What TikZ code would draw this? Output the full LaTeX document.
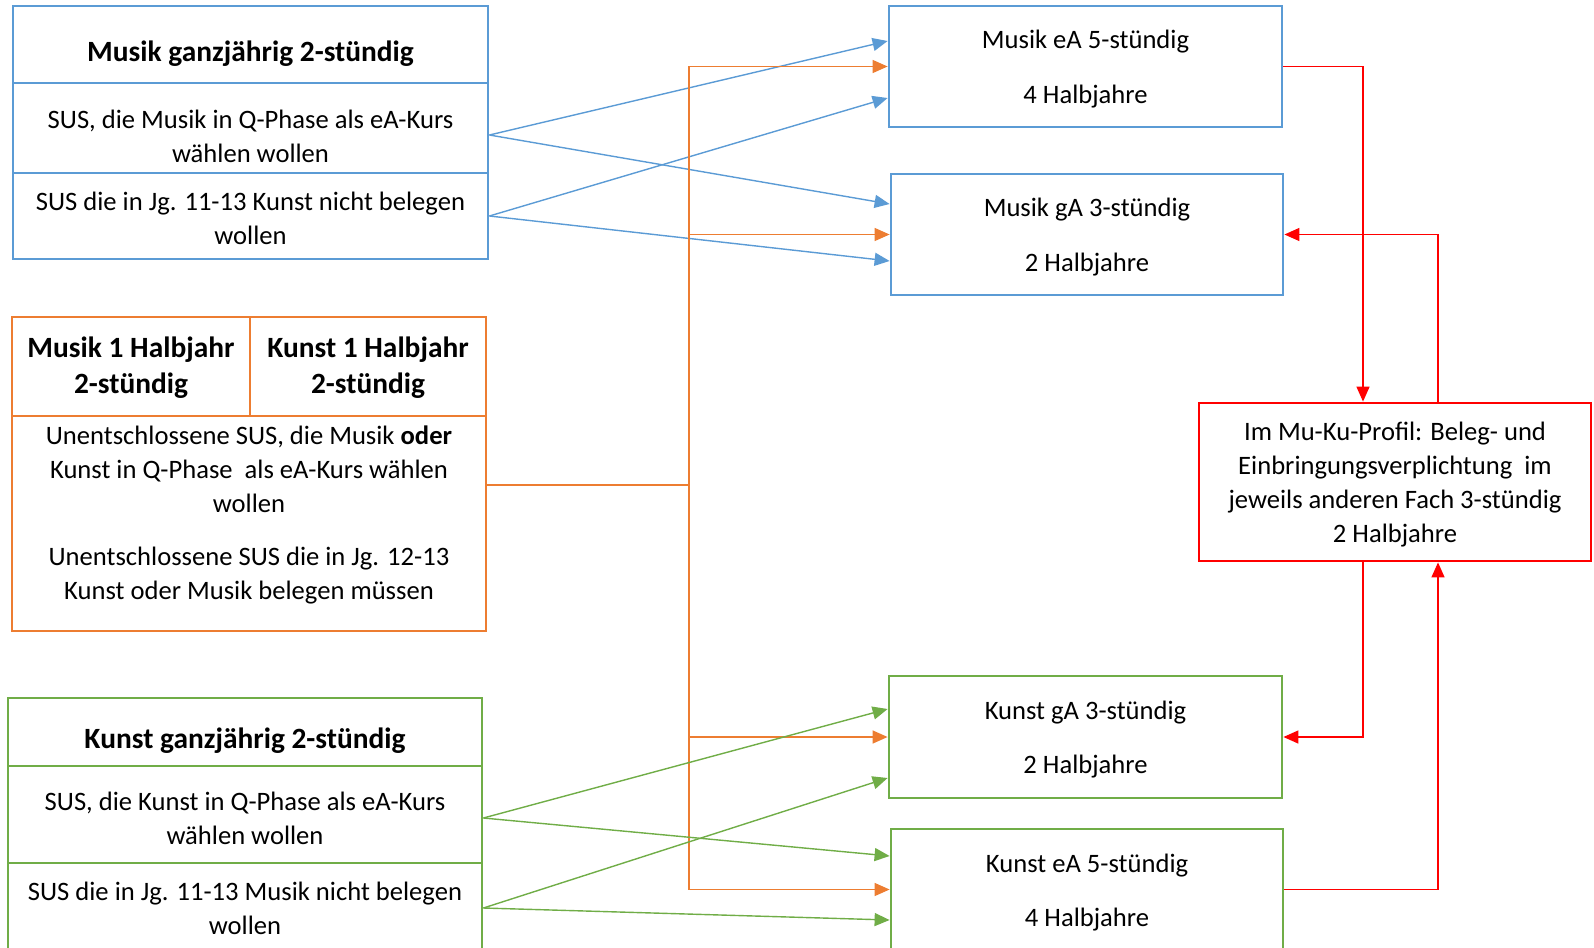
\documentclass[tikz,border=0pt]{standalone}
\usepackage{fontspec}
\setmainfont{Carlito}
\usetikzlibrary{arrows.meta, positioning}

\definecolor{mublue}{RGB}{91,155,213}
\definecolor{unorange}{RGB}{237,125,49}
\definecolor{kugreen}{RGB}{112,173,71}
\definecolor{profred}{RGB}{255,0,0}

\begin{document}
\begin{tikzpicture}[x=0.5pt, y=-0.5pt,
    box/.style={draw, line width=1.4pt, inner sep=0pt},
    txt/.style={align=center, font=\fontsize{13.3}{17.1}\selectfont},
    headtxt/.style={align=center, font=\bfseries\fontsize{14.7}{18}\selectfont},
    conn/.style={line width=0.7pt, -{Triangle[length=7.5pt, width=6.5pt]}},
  ]
  \useasboundingbox (0,0) rectangle (1594,947);
  \clip (0,0) rectangle (1594,947);

  \node[box, mublue, minimum width=237.5pt, minimum height=38.5pt] (mhead) at (250.5,44.5) {};
  \node[box, mublue, minimum width=237.5pt, minimum height=45pt] (mwunsch) at (250.5,128) {};
  \node[box, mublue, minimum width=237.5pt, minimum height=43pt] (mnicht) at (250.5,216) {};
  \node[headtxt] (mheadtext) at ([yshift=-4.6pt]mhead.center) {Musik ganzjährig 2-stündig};
  \node[txt] (mwunschtext) at ([yshift=-4.3pt]mwunsch.center) {SUS, die Musik in Q-Phase als eA-Kurs\\wählen wollen};
  \node[txt] (mnichttext) at ([yshift=-1pt]mnicht.center) {SUS die in Jg. 11-13 Kunst nicht belegen\\wollen};

  \node[box, unorange, minimum width=119pt, minimum height=49.5pt] (ohm) at (131,366.5) {};
  \node[box, unorange, minimum width=118pt, minimum height=49.5pt] (ohk) at (368,366.5) {};
  \node[box, unorange, minimum width=237pt, minimum height=107.5pt] (obody) at (249,523.5) {};
  \node[headtxt] (ohmtext) at ([yshift=-0.7pt]ohm.center) {Musik 1 Halbjahr\\2-stündig};
  \node[headtxt] (ohktext) at ([yshift=-0.7pt]ohk.center) {Kunst 1 Halbjahr\\2-stündig};
  \node[txt] (obodytext) at ([yshift=4.3pt]obody.center) {Unentschlossene SUS, die Musik \textbf{oder}\\Kunst in Q-Phase\ \ als eA-Kurs wählen\\wollen\\[9pt]Unentschlossene SUS die in Jg. 12-13\\Kunst oder Musik belegen müssen};

  \node[box, kugreen, minimum width=237pt, minimum height=34pt] (khead) at (245,732) {};
  \node[box, kugreen, minimum width=237pt, minimum height=48.5pt] (kwunsch) at (245,814.5) {};
  \node[box, kugreen, minimum width=237pt, minimum height=45pt] (knicht) at (245,908) {};
  \node[headtxt] (kheadtext) at ([yshift=-4.1pt]khead.center) {Kunst ganzjährig 2-stündig};
  \node[txt] (kwunschtext) at ([yshift=-1.8pt]kwunsch.center) {SUS, die Kunst in Q-Phase als eA-Kurs\\wählen wollen};
  \node[txt] (knichttext) at (knicht.center) {SUS die in Jg. 11-13 Musik nicht belegen\\wollen};

  \node[box, mublue, minimum width=196.5pt, minimum height=60.5pt] (meA) at (1085.5,66.5) {};
  \node[box, mublue, minimum width=196pt, minimum height=60.5pt] (mgA) at (1087,234.5) {};
  \node[box, kugreen, minimum width=196.5pt, minimum height=61pt] (kgA) at (1085.5,737) {};
  \node[box, kugreen, minimum width=196pt, minimum height=60.5pt] (keA) at (1087,889.5) {};
  \node[txt] (meAtext) at ([yshift=-1.3pt]meA.center) {Musik eA 5-stündig\\[10pt]4 Halbjahre};
  \node[txt] (mgAtext) at ([yshift=-1.3pt]mgA.center) {Musik gA 3-stündig\\[10pt]2 Halbjahre};
  \node[txt] (kgAtext) at ([yshift=-1.3pt]kgA.center) {Kunst gA 3-stündig\\[10pt]2 Halbjahre};
  \node[txt] (keAtext) at ([yshift=-1.5pt]keA.center) {Kunst eA 5-stündig\\[10pt]4 Halbjahre};

  \node[box, profred, minimum width=196pt, minimum height=79pt] (profil) at (1395,482) {};
  \node[txt] (profiltext) at ([yshift=-1.3pt]profil.center) {Im Mu-Ku-Profil: Beleg- und\\Einbringungsverplichtung\ \ im\\jeweils anderen Fach 3-stündig\\2 Halbjahre};

  \draw[conn, mublue] ([yshift=-3.5pt]mwunsch.east) -- ([yshift=12.75pt]meA.west);
  \draw[conn, mublue] ([yshift=-3.5pt]mwunsch.east) -- ([yshift=15.25pt]mgA.west);
  \draw[conn, mublue] (mnicht.east) -- ([yshift=-15.75pt]meA.west);
  \draw[conn, mublue] (mnicht.east) -- ([yshift=-13.25pt]mgA.west);

  \coordinate (ospine) at (689,485);
  \draw[line width=0.7pt, unorange] ([yshift=19.25pt]obody.east) -- (ospine);
  \draw[conn, unorange] (ospine) |- (meA.west);
  \draw[conn, unorange] (ospine) |- (mgA.west);
  \draw[conn, unorange] (ospine) |- (kgA.west);
  \draw[conn, unorange] (ospine) |- (keA.west);

  \draw[conn, kugreen] ([yshift=-1.75pt]kwunsch.east) -- ([yshift=14pt]kgA.west);
  \draw[conn, kugreen] ([yshift=-1.75pt]kwunsch.east) -- ([yshift=16.75pt]keA.west);
  \draw[conn, kugreen] (knicht.east) -- ([yshift=-20.5pt]kgA.west);
  \draw[conn, kugreen] (knicht.east) -- ([yshift=-15.25pt]keA.west);

  \draw[conn, profred] (meA.east) -| ([xshift=-16pt]profil.north);
  \draw[conn, profred] ([xshift=21.5pt]profil.north) |- (mgA.east);
  \draw[conn, profred] ([xshift=-16pt]profil.south) |- (kgA.east);
  \draw[conn, profred] (keA.east) -| ([xshift=21.5pt]profil.south);
\end{tikzpicture}
\end{document}
